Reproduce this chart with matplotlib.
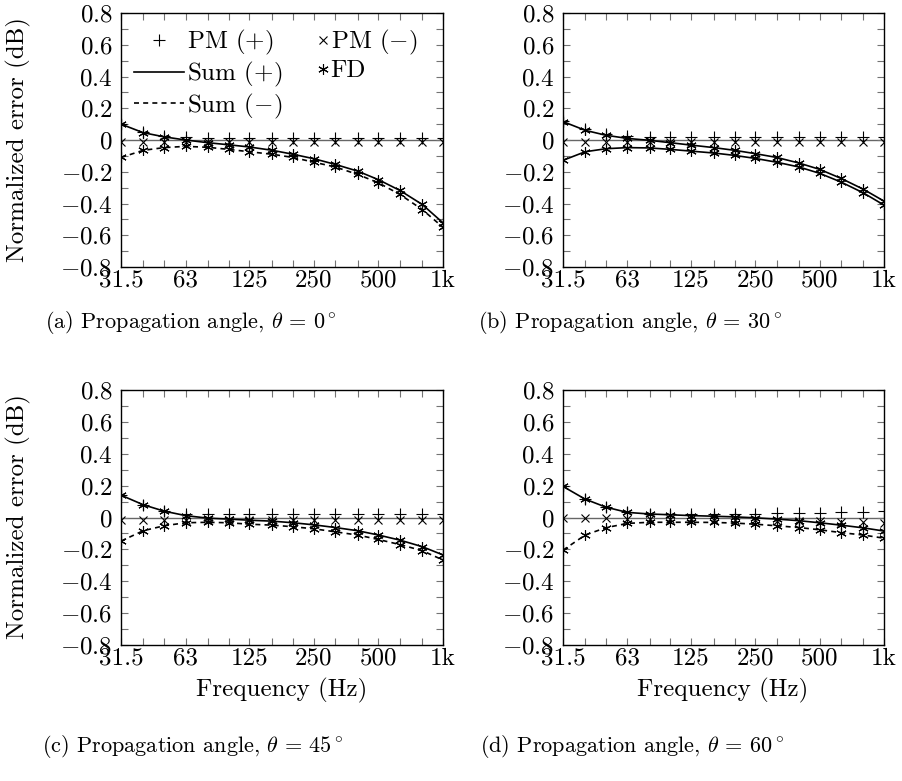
import matplotlib
matplotlib.use('Agg')

import matplotlib.pyplot as plt
from matplotlib.ticker import NullLocator

# third-octave band centres
freq_hz = [31.5, 40, 50, 63, 80, 100, 125, 160, 200, 250, 315, 400, 500, 630, 800, 1000]
xtick_labels = ['31.5', '', '', '63', '', '', '125', '', '', '250', '', '', '500', '', '', '1k']
ytick_vals = [-0.8, -0.6, -0.4, -0.2, 0.0, 0.2, 0.4, 0.6, 0.8]
ytick_labels = ['$-0.8$', '$-0.6$', '$-0.4$', '$-0.2$', '$0$', '$0.2$', '$0.4$', '$0.6$', '$0.8$']

# (a) theta = 0
pm_p_a = [0.10, 0.05, 0.025, 0.017, 0.015, 0.015, 0.015, 0.015, 0.015, 0.015, 0.015, 0.015, 0.015, 0.015, 0.015, 0.015]
pm_m_a = [-0.01, -0.01, -0.01, -0.01, -0.01, -0.01, -0.01, -0.01, -0.01, -0.01, -0.01, -0.01, -0.01, -0.01, -0.01, -0.01]
sum_p_a = [0.10, 0.046, 0.02, 0.0, -0.017, -0.03, -0.044, -0.065, -0.09, -0.118, -0.154, -0.196, -0.25, -0.318, -0.406, -0.522]
sum_m_a = [-0.11, -0.065, -0.048, -0.04, -0.046, -0.059, -0.074, -0.09, -0.11, -0.14, -0.17, -0.217, -0.27, -0.343, -0.438, -0.55]

# (b) theta = 30
pm_p_b = [0.12, 0.07, 0.038, 0.027, 0.02, 0.02, 0.018, 0.018, 0.018, 0.018, 0.018, 0.018, 0.018, 0.018, 0.02, 0.02]
pm_m_b = [-0.015, -0.015, -0.015, -0.015, -0.015, -0.015, -0.015, -0.015, -0.015, -0.015, -0.015, -0.015, -0.015, -0.015, -0.015, -0.015]
sum_p_b = [0.116, 0.061, 0.03, 0.01, -0.002, -0.017, -0.032, -0.048, -0.065, -0.086, -0.11, -0.145, -0.185, -0.242, -0.31, -0.385]
sum_m_b = [-0.128, -0.074, -0.055, -0.048, -0.05, -0.059, -0.07, -0.082, -0.097, -0.116, -0.14, -0.17, -0.21, -0.265, -0.333, -0.41]

# (c) theta = 45
pm_p_c = [0.14, 0.08, 0.04, 0.022, 0.02, 0.02, 0.02, 0.02, 0.02, 0.02, 0.02, 0.02, 0.02, 0.02, 0.02, 0.02]
pm_m_c = [-0.015, -0.015, -0.015, -0.015, -0.015, -0.015, -0.015, -0.015, -0.015, -0.015, -0.015, -0.015, -0.015, -0.015, -0.015, -0.015]
sum_p_c = [0.14, 0.08, 0.04, 0.012, -0.004, -0.01, -0.017, -0.023, -0.033, -0.046, -0.063, -0.083, -0.11, -0.142, -0.183, -0.235]
sum_m_c = [-0.148, -0.083, -0.052, -0.033, -0.03, -0.033, -0.042, -0.048, -0.058, -0.071, -0.09, -0.11, -0.138, -0.17, -0.208, -0.267]

# (d) theta = 60
pm_p_d = [0.195, 0.115, 0.065, 0.035, 0.025, 0.022, 0.022, 0.022, 0.024, 0.025, 0.026, 0.028, 0.03, 0.033, 0.035, 0.04]
pm_m_d = [-0.003, -0.003, -0.005, -0.008, -0.01, -0.01, -0.012, -0.013, -0.015, -0.017, -0.02, -0.022, -0.025, -0.027, -0.03, -0.032]
sum_p_d = [0.195, 0.115, 0.065, 0.032, 0.022, 0.017, 0.012, 0.008, 0.004, -0.002, -0.01, -0.02, -0.033, -0.048, -0.065, -0.085]
sum_m_d = [-0.205, -0.11, -0.064, -0.037, -0.03, -0.03, -0.03, -0.031, -0.035, -0.042, -0.052, -0.063, -0.077, -0.095, -0.11, -0.13]

captions = [r'(a) Propagation angle, $\theta\, =\, 0^\circ$',
            r'(b) Propagation angle, $\theta\, =\, 30^\circ$',
            r'(c) Propagation angle, $\theta\, =\, 45^\circ$',
            r'(d) Propagation angle, $\theta\, =\, 60^\circ$']

plt.rcParams['font.family'] = 'serif'
plt.rcParams['font.serif'] = ['cmr10']
plt.rcParams['mathtext.fontset'] = 'cm'
plt.rcParams['axes.formatter.use_mathtext'] = True
plt.rcParams['font.size'] = 18

FS = 18
W, H = 902, 781


def box(l, t, r, b):
    return [l / W, 1 - b / H, (r - l) / W, (b - t) / H]


def panel(fig, rect, pm_p, pm_m, sum_p, sum_m, minus_style, show_legend=False):
    ax = fig.add_axes(rect)
    ax.set_xscale('log')
    ax.axhline(0, color='0.4', lw=1.0, zorder=1)

    h_sp, = ax.plot(freq_hz, sum_p, color='black', lw=1.2, zorder=2)
    h_sm, = ax.plot(freq_hz, sum_m, color='black', lw=1.2, linestyle=minus_style, zorder=2)
    h_pp, = ax.plot(freq_hz, pm_p, linestyle='none', marker='+', ms=8, mew=0.8, color='black', zorder=3)
    h_pm, = ax.plot(freq_hz, pm_m, linestyle='none', marker='x', ms=6, mew=0.8, color='black', zorder=3)
    # FD points sit on the two summed curves
    h_fd, = ax.plot(freq_hz, sum_p, linestyle='none', marker=(6, 2, 0), ms=7.5, mew=0.8, color='black', zorder=3)
    ax.plot(freq_hz, sum_m, linestyle='none', marker=(6, 2, 0), ms=7.5, mew=0.8, color='black', zorder=3)

    ax.set_xlim(31.5, 1000)
    ax.set_ylim(-0.8, 0.8)
    ax.set_xticks(freq_hz)
    ax.set_xticklabels(xtick_labels)
    ax.xaxis.set_minor_locator(NullLocator())
    ax.set_yticks(ytick_vals)
    ax.set_yticklabels(ytick_labels)
    ax.set_yticks([-0.7, -0.5, -0.3, -0.1, 0.1, 0.3, 0.5, 0.7], minor=True)
    ax.tick_params(which='both', direction='in', top=True, right=True,
                   length=5, width=0.8, color='0.45', labelsize=FS)
    ax.tick_params(axis='x', pad=2)
    ax.tick_params(axis='y', pad=6)
    for s in ax.spines.values():
        s.set_linewidth(1.0)

    if show_legend:
        leg1 = ax.legend([h_pp, h_sp, h_sm], ['PM $(+)$', 'Sum $(+)$', 'Sum $(-)$'],
                         loc='upper left', bbox_to_anchor=(0.04, 0.94), frameon=False,
                         handlelength=2.0, handletextpad=0.12, labelspacing=0.1,
                         borderpad=0, borderaxespad=0, fontsize=FS)
        ax.add_artist(leg1)
        ax.legend([h_pm, h_fd], ['PM $(-)$', 'FD'],
                  loc='upper left', bbox_to_anchor=(0.612, 0.94), frameon=False,
                  handlelength=0.4, handletextpad=0.1, labelspacing=0.1,
                  borderpad=0, borderaxespad=0, fontsize=FS)
    return ax


fig = plt.figure(figsize=(W / 100, H / 100), dpi=100)

panel(fig, box(121, 13, 443, 267), pm_p_a, pm_m_a, sum_p_a, sum_m_a, (0, (3, 2.5)), show_legend=True)
panel(fig, box(563, 13, 884, 267), pm_p_b, pm_m_b, sum_p_b, sum_m_b, '-')
panel(fig, box(121, 390, 443, 645), pm_p_c, pm_m_c, sum_p_c, sum_m_c, (0, (3, 2.5)))
panel(fig, box(563, 390, 884, 645), pm_p_d, pm_m_d, sum_p_d, sum_m_d, (0, (3, 2.5)))

# y labels, x labels and sub-captions
for yc in [140, 517]:
    fig.text(18 / W, 1 - yc / H, 'Normalized error (dB)', rotation=90,
             ha='center', va='center', fontsize=FS)
for xc in [282, 723]:
    fig.text(xc / W, 1 - 690 / H, 'Frequency (Hz)', ha='center', va='center', fontsize=FS)

cap_pos = [(191, 322), (630, 322), (193, 746), (632, 746)]
for (xc, yc), txt in zip(cap_pos, captions):
    fig.text(xc / W, 1 - yc / H, txt, ha='center', va='center', fontsize=16)

fig.savefig('out.png', dpi=100)
